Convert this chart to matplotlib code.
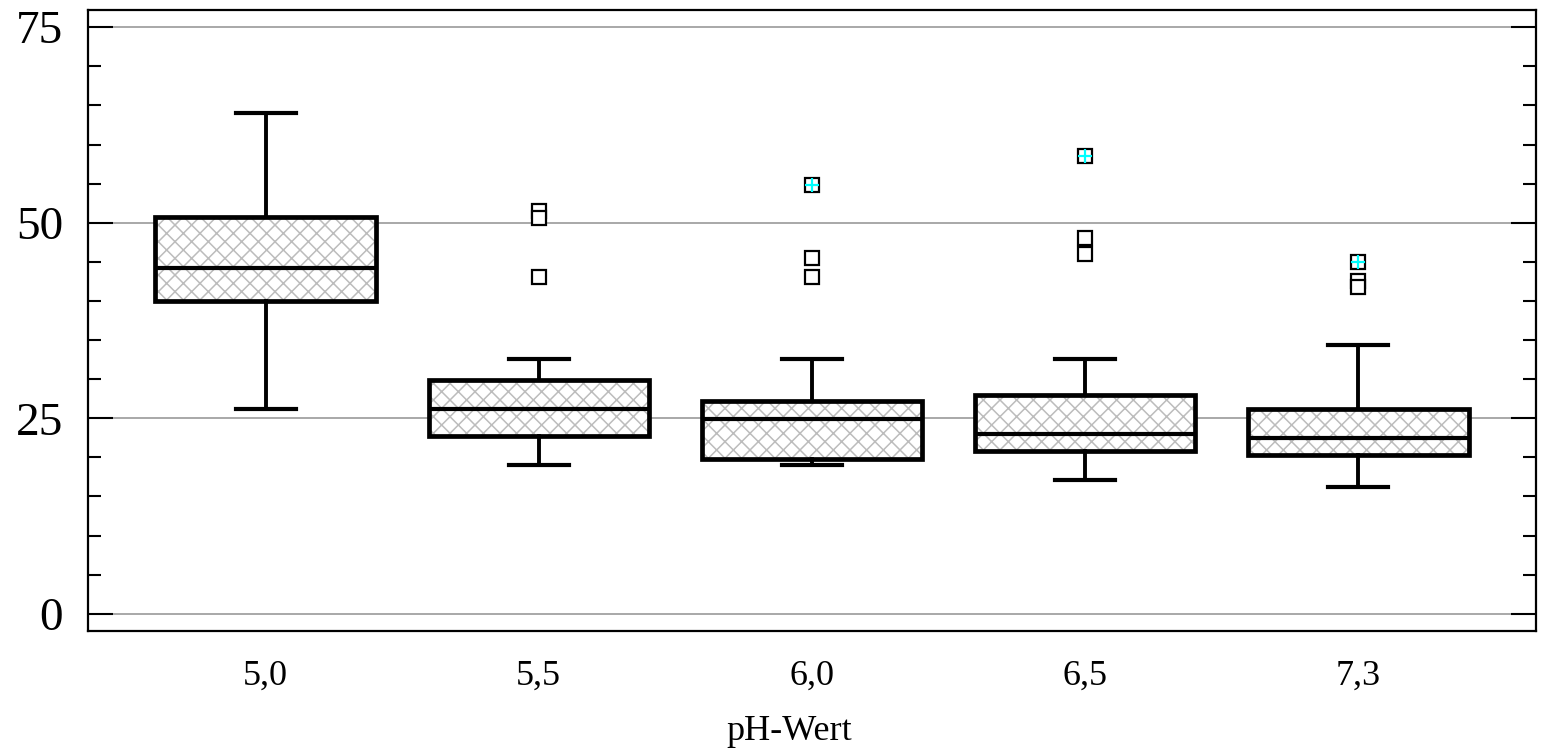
import matplotlib.pyplot as plt
from matplotlib.patches import PathPatch
from matplotlib.ticker import MultipleLocator

plt.rcParams["font.family"] = ["Liberation Serif", "DejaVu Serif"]
plt.rcParams["hatch.linewidth"] = 1.1

# pH groups and box statistics
ph_labels = ["5,0", "5,5", "6,0", "6,5", "7,3"]
whisker_low = [26.2, 19.0, 19.0, 17.1, 16.2]
q1 = [40.0, 22.7, 19.8, 20.8, 20.3]
median = [44.2, 26.2, 24.9, 23.0, 22.5]
q3 = [50.7, 29.9, 27.2, 28.0, 26.2]
whisker_high = [64.0, 32.6, 32.6, 32.6, 34.4]

# outliers (squares) and extreme values (squares marked with a cross)
outliers = [[], [51.5, 50.6, 43.1], [45.5, 43.1], [48.0, 46.0], [42.5, 41.8]]
extremes = [[], [], [54.8], [58.5], [45.0]]

positions = list(range(1, len(ph_labels) + 1))

stats = []
for i in range(len(ph_labels)):
    stats.append({
        "whislo": whisker_low[i],
        "q1": q1[i],
        "med": median[i],
        "q3": q3[i],
        "whishi": whisker_high[i],
        "fliers": outliers[i] + extremes[i],
    })

fig = plt.figure(figsize=(15.43, 7.51), dpi=100)
ax = fig.add_axes([88 / 1543, 1 - 631 / 751, 1448 / 1543, 621 / 751])

bp = ax.bxp(
    stats,
    positions=positions,
    widths=0.806,
    capwidths=0.22,
    patch_artist=True,
    boxprops=dict(facecolor="white", edgecolor="#bcbcbc", linewidth=0, hatch="xx"),
    medianprops=dict(color="black", linewidth=3),
    whiskerprops=dict(color="black", linewidth=2.8),
    capprops=dict(color="black", linewidth=3),
    flierprops=dict(marker="s", markerfacecolor="white", markeredgecolor="black",
                    markersize=10.5, markeredgewidth=1.6),
    zorder=3,
)

# black outline on top of the hatched fill
for box in bp["boxes"]:
    ax.add_patch(PathPatch(box.get_path(), fill=False, edgecolor="black",
                           linewidth=3.4, zorder=4))

for pos, ext in zip(positions, extremes):
    if ext:
        ax.plot([pos] * len(ext), ext, linestyle="none", marker="+", color="cyan",
                markersize=10.5, markeredgewidth=1.6, zorder=6)

ax.set_xlim(0.35, 5.65)
ax.set_ylim(-2.2, 77.2)
ax.set_xticks(positions)
ax.set_xticklabels(ph_labels)
ax.yaxis.set_major_locator(MultipleLocator(25))
ax.yaxis.set_minor_locator(MultipleLocator(5))
ax.grid(axis="y", which="major", color="#a8a8a8", linewidth=1.4, zorder=0)
ax.set_axisbelow(True)

ax.tick_params(axis="x", length=0, pad=21, labelsize=26)
ax.tick_params(axis="y", which="both", direction="in", left=True, right=True,
               width=1.5, color="black", labelsize=34, pad=18)
ax.tick_params(axis="y", which="major", length=18)
ax.tick_params(axis="y", which="minor", length=9.5)

for spine in ax.spines.values():
    spine.set_linewidth(1.6)

ax.set_xlabel("pH-Wert", fontsize=26)
ax.xaxis.set_label_coords((789 - 88) / 1448, -0.162)
ax.xaxis.label.set_verticalalignment("center")

fig.savefig("out.png", dpi=100)
